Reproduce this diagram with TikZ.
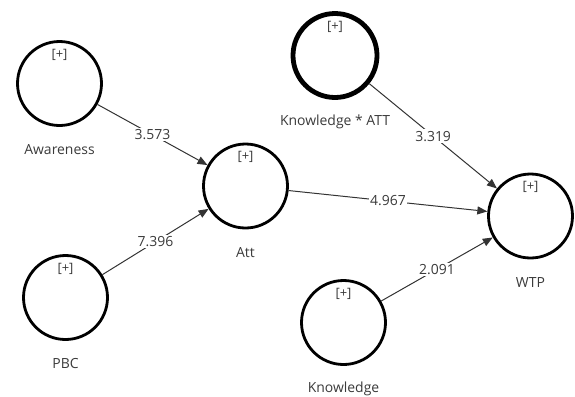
\documentclass[tikz,border=0pt]{standalone}
\usepackage{fontspec}
\setmainfont{Open Sans}
\usetikzlibrary{arrows.meta}
\definecolor{txt}{HTML}{3A3A3A}
\definecolor{edge}{HTML}{333333}
\begin{document}
\begin{tikzpicture}[x=1bp,y=-1bp,
  lv/.style={circle,draw=black,line width=2.8bp,minimum size=84bp,inner sep=0pt},
  lvthick/.style={lv,line width=4.8bp},
  plusmark/.style={font=\fontsize{13}{14}\selectfont,text=txt,inner sep=0pt},
  lvlabel/.style={font=\fontsize{14}{16}\selectfont,text=txt,inner sep=0pt},
  arc/.style={draw=edge,line width=1bp,-{Triangle[length=10bp,width=8bp]}},
  coef/.style={fill=white,font=\fontsize{14}{16}\selectfont,text=txt,inner sep=1.5bp}]
\useasboundingbox (0,0) rectangle (575,396);
% latent variables
\node[lv] (aw) at (59.5,83.5) {};
\node[lv] (att) at (245.5,186) {};
\node[lv] (pbc) at (65.5,297.5) {};
\node[lvthick] (ka) at (335,55.5) {};
\node[lv] (wtp) at (530.5,216) {};
\node[lv] (kn) at (343.5,322.5) {};
% [+] marks
\foreach \n in {aw,att,pbc,ka,wtp,kn}{
  \node[plusmark] (p\n) at ([yshift=29bp]\n.center) {[+]};
}
% names
\node[lvlabel] (law) at ([yshift=-66.5bp]aw.center) {Awareness};
\node[lvlabel] (latt) at ([yshift=-66.5bp]att.center) {Att};
\node[lvlabel] (lpbc) at ([yshift=-66.5bp]pbc.center) {PBC};
\node[lvlabel] (lka) at ([yshift=-66.5bp]ka.center) {Knowledge * ATT};
\node[lvlabel] (lwtp) at ([yshift=-66.5bp]wtp.center) {WTP};
\node[lvlabel] (lkn) at ([yshift=-66.5bp]kn.center) {Knowledge};
% paths
\draw[arc] (aw) -- node[coef] {3.573} (att);
\draw[arc] (pbc) -- node[coef] {7.396} (att);
\draw[arc] (att) -- node[coef] {4.967} (wtp);
\draw[arc] (ka) -- node[coef] {3.319} (wtp);
\draw[arc] (kn) -- node[coef] {2.091} (wtp);
\end{tikzpicture}
\end{document}
